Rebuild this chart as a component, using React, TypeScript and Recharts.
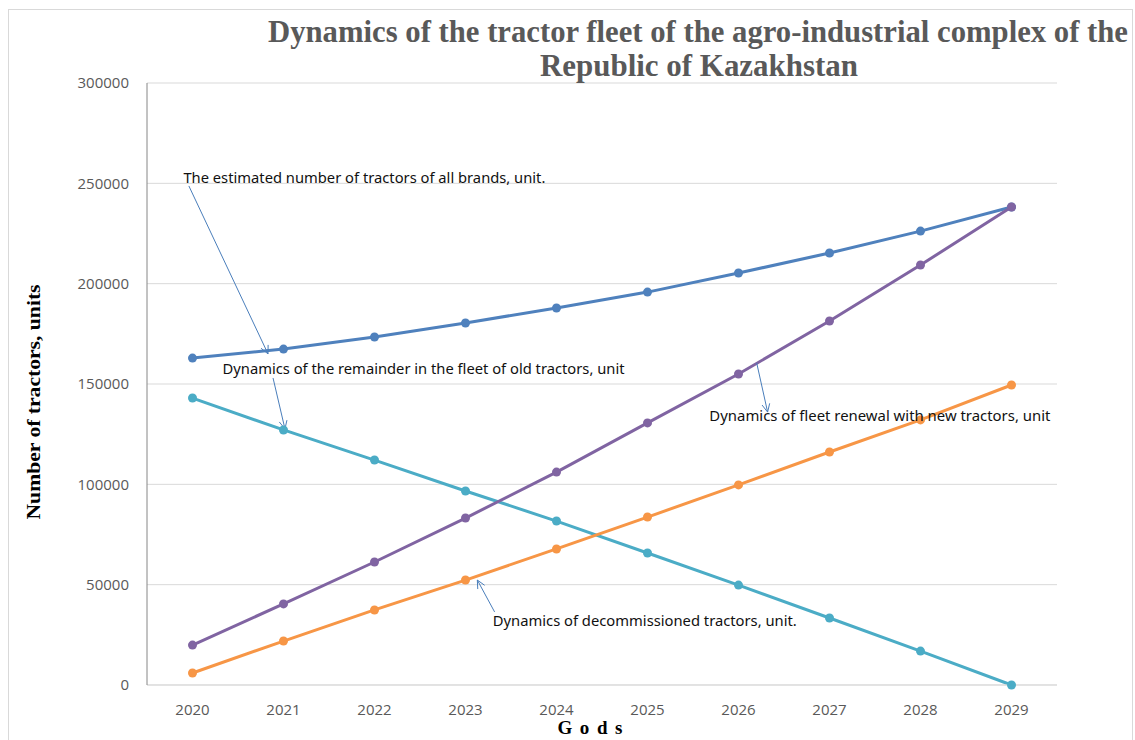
import React from 'react'
import {
  LineChart, Line, XAxis, YAxis, CartesianGrid, ReferenceLine, ReferenceDot, Customized,
} from 'recharts'

const years = [2020, 2021, 2022, 2023, 2024, 2025, 2026, 2027, 2028, 2029]
const totalFleet = [162900, 167400, 173400, 180400, 187900, 195800, 205300, 215300, 226200, 238200]
const oldRemainder = [143000, 127100, 112100, 96700, 81700, 65800, 49800, 33400, 16900, 0]
const renewal = [19900, 40400, 61300, 83200, 106100, 130600, 155000, 181400, 209300, 238200]
const decommissioned = [6000, 21900, 37400, 52300, 67800, 83700, 99700, 116100, 132100, 149500]
const yTicks = [0, 50000, 100000, 150000, 200000, 250000, 300000]

// callout notes, anchored in data units (year, tractors)
const noteTexts = [
  'The estimated number of tractors of all brands, unit.',
  'Dynamics of the remainder in the fleet of old tractors, unit',
  'Dynamics of fleet renewal with new tractors, unit',
  'Dynamics of decommissioned tractors, unit.',
]
const noteYears = [2019.9, 2020.33, 2025.68, 2023.3]
const noteValues = [250000, 155000, 131600, 29400]

// callout arrows: [fromYear, fromValue, toYear, toValue]
const arrowFrom = [
  { x: 2019.96, y: 248700 },
  { x: 2020.885, y: 153000 },
  { x: 2026.2, y: 160500 },
  { x: 2023.32, y: 36400 },
]
const arrowTo = [
  { x: 2020.83, y: 165000 },
  { x: 2021.016, y: 127600 },
  { x: 2026.32, y: 136000 },
  { x: 2023.13, y: 52300 },
]

const data = years.map((year, i) => ({
  year,
  total: totalFleet[i],
  remainder: oldRemainder[i],
  renewal: renewal[i],
  decommissioned: decommissioned[i],
}))

const noteWidths = [362, 402, 341, 304]
const tickStyle = { fill: '#595959', fontSize: 15, fontFamily: '"Open Sans", sans-serif' }

function Arrow(props: any) {
  const { x1, y1, x2, y2 } = props
  const a = Math.atan2(y2 - y1, x2 - x1)
  const len = 9
  const spread = 0.45
  const p1 = [x2 - len * Math.cos(a - spread), y2 - len * Math.sin(a - spread)]
  const p2 = [x2 - len * Math.cos(a + spread), y2 - len * Math.sin(a + spread)]
  return (
    <g stroke="#4a7ebb" strokeWidth={1} fill="none">
      <line x1={x1} y1={y1} x2={x2} y2={y2} />
      <polyline points={`${p1[0]},${p1[1]} ${x2},${y2} ${p2[0]},${p2[1]}`} />
    </g>
  )
}

function Title() {
  return (
    <g fontFamily='"Liberation Serif", serif' fontWeight="bold" fill="#595959" fontSize={31}>
      <text x={698} y={42} textAnchor="middle" textLength={860} lengthAdjust="spacingAndGlyphs">
        Dynamics of the tractor fleet of the agro-industrial complex of the
      </text>
      <text x={699} y={76} textAnchor="middle" textLength={318} lengthAdjust="spacingAndGlyphs">
        Republic of Kazakhstan
      </text>
    </g>
  )
}

export default function App() {
  return (
    <div style={{ position: 'absolute', left: 0, top: 0, width: 1135, height: 740, background: '#fff' }}>
      <div style={{ position: 'absolute', left: 8, top: 9, width: 1123, height: 740, borderLeft: '1px solid #d9d9d9', borderRight: '1px solid #d9d9d9', borderTop: '1px solid #d9d9d9' }} />
      <LineChart width={1135} height={740} data={data} margin={{ top: 83, right: 78, bottom: 0, left: 0 }} style={{ position: 'absolute', left: 0, top: 0 }}>
        <CartesianGrid vertical={false} stroke="#d9d9d9" />
        <XAxis
          dataKey="year"
          type="number"
          domain={[2019.5, 2029.5]}
          ticks={years}
          interval={0}
          height={55}
          tickLine={false}
          tickSize={0}
          tickMargin={19}
          axisLine={{ stroke: '#d9d9d9' }}
          tick={tickStyle}
          label={{
            content: ({ viewBox }: any) => (
              <text x={viewBox.x + viewBox.width / 2 - 12} y={viewBox.y + 49} textAnchor="middle"
                fontFamily='"Liberation Serif", serif' fontWeight="bold" fontSize={19} fill="#000"
                textLength={65} lengthAdjust="spacing">
                G o d s
              </text>
            ),
          }}
        />
        <YAxis
          domain={[0, 300000]}
          ticks={yTicks}
          width={147}
          tickLine={false}
          tickSize={0}
          tickMargin={18}
          axisLine={{ stroke: '#868686' }}
          tick={tickStyle}
          label={{
            content: ({ viewBox }: any) => {
              const cx = viewBox.x + 33
              const cy = viewBox.y + viewBox.height / 2 + 18
              return (
                <text x={cx} y={cy} transform={`rotate(-90 ${cx} ${cy})`} textAnchor="middle" dominantBaseline="central"
                  fontFamily='"Liberation Serif", serif' fontWeight="bold" fontSize={19} fill="#000"
                  textLength={235} lengthAdjust="spacingAndGlyphs">
                  Number of tractors, units
                </text>
              )
            },
          }}
        />
        <Line dataKey="total" stroke="#4f81bd" strokeWidth={3} dot={{ r: 4.5, fill: '#4f81bd', stroke: 'none' }} isAnimationActive={false} />
        <Line dataKey="remainder" stroke="#4bacc6" strokeWidth={3} dot={{ r: 4.5, fill: '#4bacc6', stroke: 'none' }} isAnimationActive={false} />
        <Line dataKey="decommissioned" stroke="#f79646" strokeWidth={3} dot={{ r: 4.5, fill: '#f79646', stroke: 'none' }} isAnimationActive={false} />
        <Line dataKey="renewal" stroke="#8064a2" strokeWidth={3} dot={{ r: 4.5, fill: '#8064a2', stroke: 'none' }} isAnimationActive={false} />
        {arrowFrom.map((from, i) => (
          <ReferenceLine key={`a${i}`} segment={[from, arrowTo[i]]} shape={Arrow} ifOverflow="visible" />
        ))}
        {noteTexts.map((t, i) => (
          <ReferenceDot
            key={`n${i}`}
            x={noteYears[i]}
            y={noteValues[i]}
            r={0}
            ifOverflow="visible"
            shape={(p: any) => (
              <text x={p.cx} y={p.cy} fontFamily='"Noto Sans", sans-serif' fontSize={14} fill="#111"
                textLength={noteWidths[i]} lengthAdjust="spacingAndGlyphs">
                {t}
              </text>
            )}
          />
        ))}
        <Customized component={Title} />
      </LineChart>
    </div>
  )
}
